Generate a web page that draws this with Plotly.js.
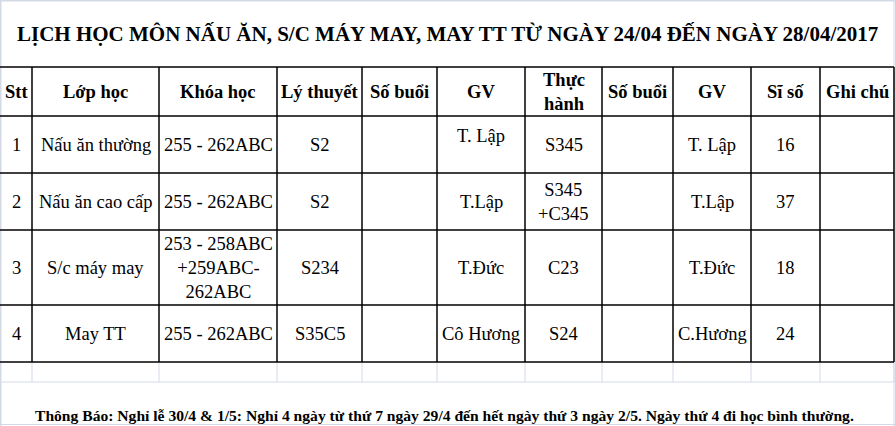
<!DOCTYPE html>
<html>
<head>
<meta charset="utf-8">
<script src="https://cdn.plot.ly/plotly-3.0.1.min.js"></script>
<style>
html, body { margin: 0; padding: 0; background: #fff; }
#chart { width: 895px; height: 426px; }
</style>
</head>
<body>
<div id="chart"></div>
<script>
// ---- data ----
const title = "LỊCH HỌC MÔN NẤU ĂN, S/C MÁY MAY, MAY TT TỪ NGÀY 24/04 ĐẾN NGÀY 28/04/2017";
const headers = ["Stt", "Lớp học", "Khóa học", "Lý thuyết", "Số buổi", "GV", "Thực<br>hành", "Số buổi", "GV", "Sĩ số", "Ghi chú"];
const stt = ["1", "2", "3", "4"];
const lopHoc = ["Nấu ăn thường", "Nấu ăn cao cấp", "S/c máy may", "May TT"];
const khoaHoc = ["255 - 262ABC", "255 - 262ABC", "253 - 258ABC<br>+259ABC-<br>262ABC", "255 - 262ABC"];
const lyThuyet = ["S2", "S2", "S234", "S35C5"];
const soBuoiLT = ["", "", "", ""];
const gvLT = ["T. Lập", "T.Lập", "T.Đức", "Cô Hương"];
const thucHanh = ["S345", "S345<br>+C345", "C23", "S24"];
const soBuoiTH = ["", "", "", ""];
const gvTH = ["T. Lập", "T.Lập", "T.Đức", "C.Hương"];
const siSo = [16, 37, 18, 24];
const ghiChu = ["", "", "", ""];
const notice = "Thông Báo: Nghỉ lễ 30/4 & 1/5: Nghỉ 4 ngày từ thứ 7 ngày 29/4 đến hết ngày thứ 3 ngày 2/5. Ngày thứ 4 đi học bình thường.";

const columns = [stt, lopHoc, khoaHoc, lyThuyet, soBuoiLT, gvLT, thucHanh, soBuoiTH, gvTH, siSo, ghiChu];

// ---- grid geometry (pixels) ----
const W = 895, H = 426;
const colEdges = [0, 32, 159, 277, 362, 437, 525, 602, 673, 751, 820, 894];
const rowEdges = [67, 116, 173, 230, 305, 362];
const blankRowEnd = 382;
// the first GV cell sits a bit higher in the sheet
const cellShift = {"0,5": 9};

const black = "#000";
const grid = "#d3dae6";
const font = '"Liberation Serif", "Times New Roman", serif';

let shapes = [];
function line(x0, y0, x1, y1, color, w) {
  shapes.push({type: "line", xref: "x", yref: "y", x0: x0, y0: y0, x1: x1, y1: y1,
    line: {color: color, width: w}});
}

// excel gridlines in the empty row + outer frame
for (let x of colEdges) line(x, rowEdges[5], x, blankRowEnd, grid, 1);
line(0, blankRowEnd, W, blankRowEnd, grid, 1);
line(0.5, 0, 0.5, H, grid, 2);
line(0, 0.5, W, 0.5, grid, 2);
line(0, H - 1.5, W, H - 1.5, grid, 1);
line(894, 0, 894, H, grid, 1);

// table borders
for (let y of rowEdges) line(0, y, colEdges[colEdges.length - 1], y, black, 1.5);
for (let x of colEdges.slice(1)) line(x, rowEdges[0], x, rowEdges[5], black, 1.5);

let annotations = [];
function text(x, y, s, size, bold, shift) {
  annotations.push({xref: "x", yref: "y", x: x, y: y, text: bold ? "<b>" + s + "</b>" : s,
    showarrow: false, xanchor: "center", yanchor: "middle", align: "center",
    yshift: shift || 0, font: {family: font, size: size, color: "#000"}});
}

text(447, 34, title, 21, true);

headers.forEach(function (h, i) {
  text((colEdges[i] + colEdges[i + 1]) / 2, (rowEdges[0] + rowEdges[1]) / 2, h, 18.5, true);
});

columns.forEach(function (col, c) {
  col.forEach(function (v, r) {
    if (v === "") return;
    text((colEdges[c] + colEdges[c + 1]) / 2, (rowEdges[r + 1] + rowEdges[r + 2]) / 2,
      String(v), 18.5, false, cellShift[r + "," + c]);
  });
});

text(444, 415, notice, 15.6, true);

const layout = {
  width: W, height: H,
  margin: {l: 0, r: 0, t: 0, b: 0},
  paper_bgcolor: "#fff", plot_bgcolor: "#fff",
  xaxis: {range: [0, W], visible: false, fixedrange: true},
  yaxis: {range: [H, 0], visible: false, fixedrange: true},
  shapes: shapes,
  annotations: annotations,
  showlegend: false
};

Plotly.newPlot("chart", [], layout, {staticPlot: true, displayModeBar: false});
</script>
</body>
</html>
